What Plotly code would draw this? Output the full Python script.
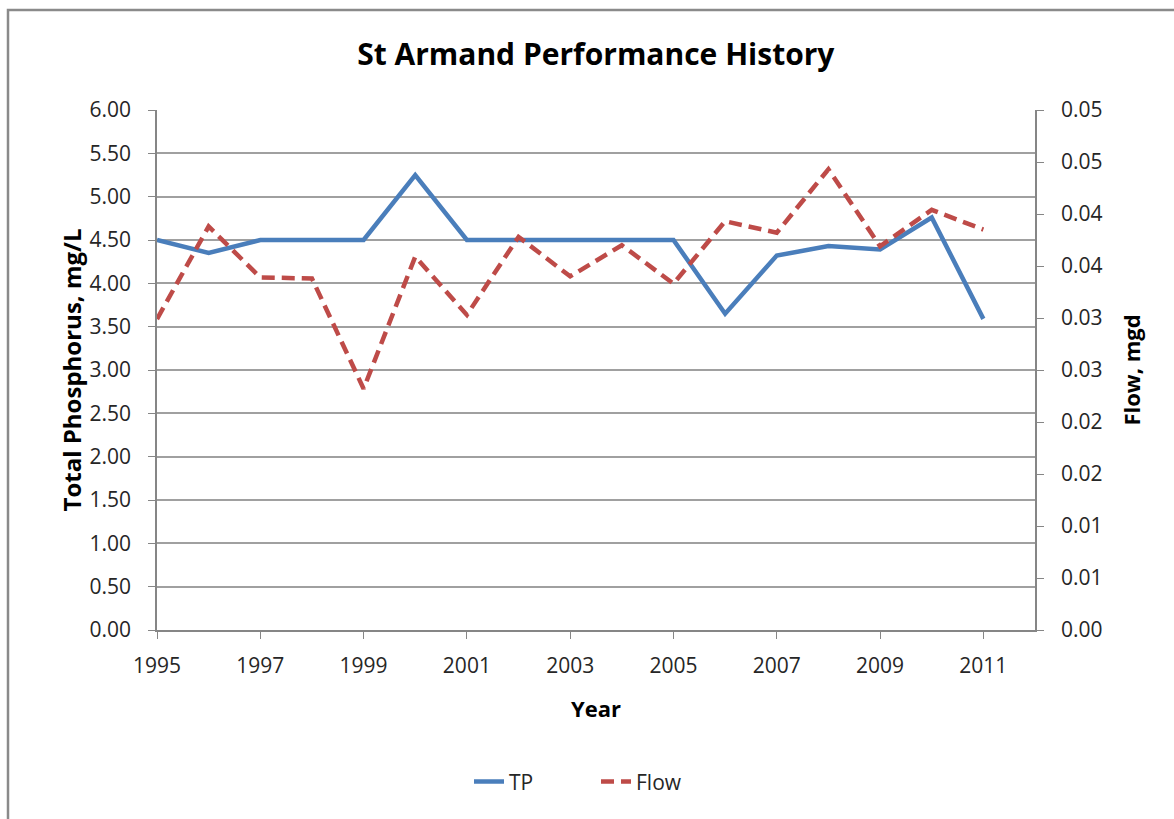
import plotly.graph_objects as go

# Annual plant data
years = list(range(1995, 2012))
tp_mg_l = [4.50, 4.35, 4.50, 4.50, 4.50, 5.25, 4.50, 4.50, 4.50, 4.50, 4.50,
           3.65, 4.32, 4.43, 4.39, 4.76, 3.59]
flow_mgd = [0.0299, 0.0388, 0.0339, 0.0338, 0.0232, 0.0359, 0.0303, 0.0378,
            0.0340, 0.0370, 0.0333, 0.0393, 0.0382, 0.0443, 0.0369, 0.0404, 0.0385]

# Axis ticks
year_ticks = list(range(1995, 2012, 2))
tp_ticks = [i * 0.5 for i in range(13)]
flow_ticks = [i * 0.005 for i in range(11)]
flow_tick_labels = ["0.00", "0.01", "0.01", "0.02", "0.02", "0.03",
                    "0.03", "0.04", "0.04", "0.05", "0.05"]

FONT = "'Open Sans', Lato, sans-serif"
TEXT = "#262626"
AXIS = "#868686"
GRID = "#a0a0a0"

fig = go.Figure()
fig.add_trace(go.Scatter(
    x=years, y=tp_mg_l, name="TP", mode="lines",
    line=dict(color="#4a7ebb", width=4.5),
))
fig.add_trace(go.Scatter(
    x=years, y=flow_mgd, name="Flow", mode="lines", yaxis="y2",
    line=dict(color="#be4b48", width=4.5, dash="13px,7px"),
))

fig.update_layout(
    width=1174, height=819,
    margin=dict(l=157, r=139, t=110, b=189),
    paper_bgcolor="white", plot_bgcolor="white",
    font=dict(family=FONT, size=21, color=TEXT),
    title=dict(
        text="<b>St Armand Performance History</b>",
        x=0.5075, xanchor="center", y=0.933, yanchor="middle",
        font=dict(family=FONT, size=30, color="#000000"),
    ),
    xaxis=dict(
        range=[1995, 2012], tickvals=year_ticks,
        showline=True, linecolor=AXIS, linewidth=1.5,
        ticks="outside", ticklen=7, tickcolor=AXIS,
        ticklabelstandoff=9,
        showgrid=False, zeroline=False,
        title=dict(text="<b>Year</b>", standoff=24,
                   font=dict(size=22, color="#000000")),
    ),
    yaxis=dict(
        range=[0, 6], tickvals=tp_ticks, tickformat=".2f",
        showline=True, linecolor=AXIS, linewidth=1.5,
        ticks="outside", ticklen=7, tickcolor=AXIS,
        ticklabelstandoff=13,
        showgrid=True, gridcolor=GRID, gridwidth=1.5, zeroline=False,
        title=dict(text="<b>Total Phosphorus, mg/L</b>", standoff=1,
                   font=dict(size=24, color="#000000")),
    ),
    yaxis2=dict(
        range=[0, 0.05], overlaying="y", side="right",
        tickvals=flow_ticks, ticktext=flow_tick_labels,
        showline=True, linecolor=AXIS, linewidth=1.5,
        ticks="outside", ticklen=7, tickcolor=AXIS,
        ticklabelstandoff=13,
        showgrid=False, zeroline=False,
        title=dict(text="<b>Flow, mgd</b>", standoff=23,
                   font=dict(size=22, color="#000000")),
    ),
    legend=dict(
        orientation="h", x=0.5, xanchor="center", y=-0.292, yanchor="middle",
        font=dict(size=21, color=TEXT), entrywidth=82, entrywidthmode="pixels",
    ),
    shapes=[dict(
        type="rect", xref="paper", yref="paper",
        x0=(8 - 157) / 878, x1=(1200 - 157) / 878,
        y0=(630 - 840) / 520, y1=(630 - 10) / 520,
        line=dict(color="#8a8a8a", width=2.5), layer="below",
    )],
)

fig.write_html("out.html")
